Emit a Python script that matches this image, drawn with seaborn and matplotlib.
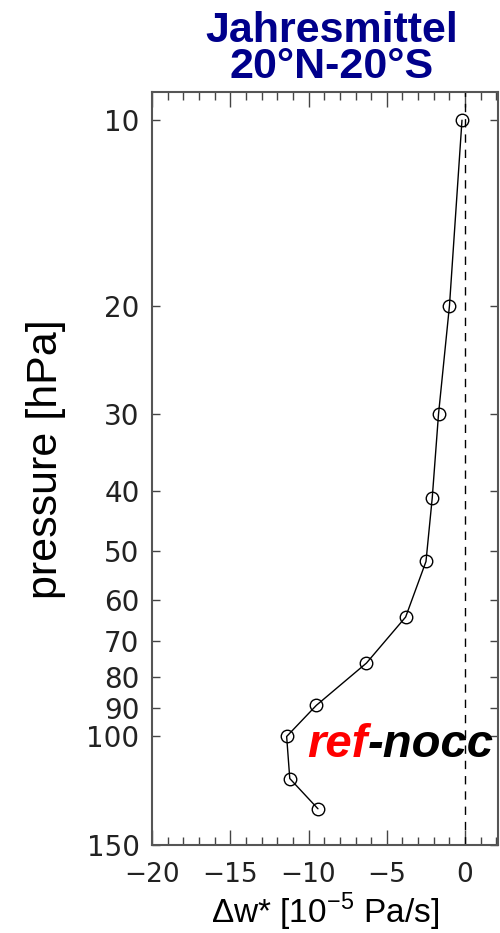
import matplotlib
matplotlib.use("Agg")
import matplotlib.pyplot as plt
import seaborn as sns
import pandas as pd
from matplotlib.ticker import FixedLocator, MultipleLocator, NullLocator

# Data
pressure = [10, 20, 30, 41, 52, 64, 76, 89, 100, 117, 131]
dw = [-0.2, -1.0, -1.7, -2.1, -2.5, -3.8, -6.3, -9.5, -11.4, -11.2, -9.4]
ytick_vals = [10, 20, 30, 40, 50, 60, 70, 80, 90, 100, 150]
xtick_vals = [-20, -15, -10, -5, 0]

title = "Jahresmittel\n20°N-20°S"
xlabel = "Δw* [10$^{\\mathregular{-5}}$ Pa/s]"
ylabel = "pressure [hPa]"

sns.set_style("ticks")
plt.rcParams['font.family'] = ['Liberation Sans', 'DejaVu Sans']
plt.rcParams['mathtext.fontset'] = 'custom'
plt.rcParams['mathtext.rm'] = 'Liberation Sans'

df = pd.DataFrame({"dw": dw, "p": pressure})

fig = plt.figure(figsize=(5, 9.33), dpi=100)
ax = fig.add_axes([0.304, 0.0943, 0.692, 0.8071])

sns.lineplot(data=df, x="dw", y="p", sort=False, estimator=None, ax=ax,
             color="black", linewidth=1.0, marker="o", markersize=9,
             markerfacecolor="none", markeredgecolor="black", markeredgewidth=1.0)

ax.axvline(0, color="black", linestyle=(0, (6, 5)), linewidth=1.0)

ax.set_yscale("log")
ax.set_ylim(150, 9.0)
ax.set_xlim(-20, 2.1)

ax.yaxis.set_major_locator(FixedLocator(ytick_vals))
ax.yaxis.set_minor_locator(NullLocator())
ax.set_yticklabels([str(v) for v in ytick_vals])
ax.xaxis.set_major_locator(FixedLocator(xtick_vals))
ax.xaxis.set_minor_locator(MultipleLocator(1))
ax.set_xticklabels(["\u2212" + str(abs(v)) if v < 0 else str(v) for v in xtick_vals])

ax.tick_params(axis="both", which="both", direction="in", top=True, right=True,
               color="#444444")
ax.tick_params(axis="both", which="major", width=1.0, labelsize=20,
               labelcolor="#222222", pad=9)
ax.tick_params(axis="x", which="major", length=10.5, pad=12, labelsize=19)
ax.tick_params(axis="y", which="major", length=5.5)
ax.tick_params(axis="x", which="minor", length=5.5, width=1.0)
for lab in ax.get_xticklabels() + ax.get_yticklabels():
    lab.set_family("DejaVu Sans")
for s in ax.spines.values():
    s.set_color("#555555")
    s.set_linewidth(1.5)

ax.set_xlabel(xlabel, fontsize=24, color="black")
ax.xaxis.set_label_coords(0.5, -0.061)
ax.set_ylabel(ylabel, fontsize=31, color="black")
ax.yaxis.set_label_coords(-0.25, 0.512)
ax.set_title(title, fontsize=31, fontweight="bold", color="#00008B",
             linespacing=0.88, pad=10, x=0.52)

t1 = ax.text(-10.1, 108, "ref", color="red", fontsize=34, fontweight="bold",
             fontstyle="italic", va="baseline", ha="left")
ax.annotate("-nocc", xy=(1, 0), xycoords=t1, color="black", fontsize=34,
            fontweight="bold", fontstyle="italic", va="bottom", ha="left")

fig.savefig("out.png", dpi=100)
